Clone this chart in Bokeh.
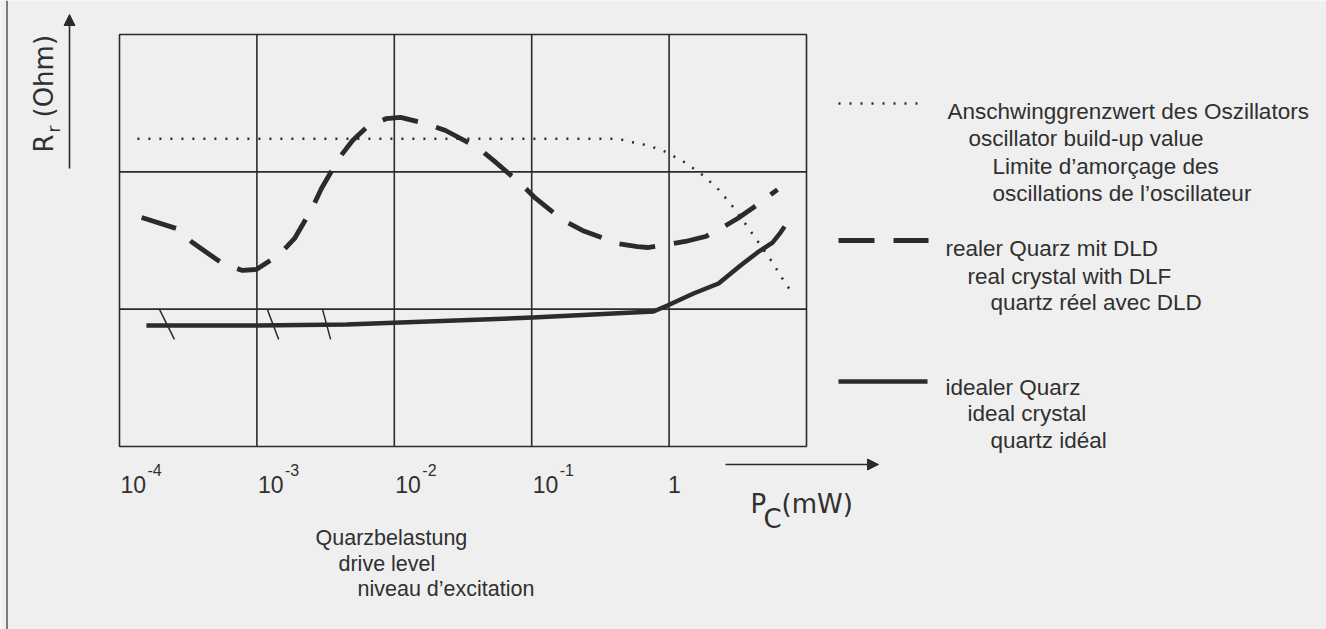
import numpy as np
from bokeh.plotting import figure
from bokeh.models import Arrow, NormalHead, Range1d
from bokeh.core.properties import value
from bokeh.embed import file_html
from bokeh.resources import INLINE

# ---------------- data ----------------
x_ticks = [1e-4, 1e-3, 1e-2, 1e-1, 1.0]
x_tick_base = ["10", "10", "10", "10", "1"]
x_tick_exp = ["-4", "-3", "-2", "-1", ""]
x_grid = [1e-3, 1e-2, 1e-1, 1.0]
y_grid = [1, 2]
x_box = [1e-4, 10.0]
y_box = [0, 3]

# oscillator build-up limit (dotted)
limit_x = [1.35e-4, 0.43, 0.51, 0.62, 0.76, 0.90, 1.25, 1.69, 2.25, 2.89, 3.60, 4.48, 5.66, 6.80, 7.65]
limit_y = [2.24, 2.24, 2.22, 2.205, 2.18, 2.155, 2.08, 1.99, 1.88, 1.75, 1.62, 1.485, 1.34, 1.21, 1.135]

# real crystal with DLD (dashed)
real_x = [1.45e-4, 2.6e-4, 3.4e-4, 5.6e-4, 7.85e-4, 9.9e-4, 1.46e-3, 1.88e-3, 2.54e-3, 2.95e-3,
          3.99e-3, 4.97e-3, 6.28e-3, 8.77e-3, 1.11e-2, 1.69e-2, 2.36e-2, 4.04e-2, 5.27e-2, 8.57e-2,
          0.107, 0.170, 0.234, 0.421, 0.589, 0.697, 0.973, 1.315, 1.84, 2.37, 3.15, 4.11, 6.15]
real_y = [1.668, 1.587, 1.485, 1.333, 1.282, 1.289, 1.398, 1.515, 1.740, 1.879,
          2.104, 2.228, 2.323, 2.388, 2.396, 2.352, 2.301, 2.177, 2.083, 1.901,
          1.806, 1.646, 1.573, 1.478, 1.456, 1.449, 1.471, 1.493, 1.529, 1.587, 1.660, 1.740, 1.871]

# ideal crystal (solid)
ideal_x = [1.57e-4, 1.0e-3, 4.49e-3, 1.11e-2, 0.1015, 0.769, 0.973, 1.505, 2.29, 3.31, 4.40, 5.66, 6.47, 6.92]
ideal_y = [0.881, 0.881, 0.888, 0.903, 0.939, 0.983, 1.027, 1.114, 1.187, 1.318, 1.413, 1.485, 1.558, 1.602]

# hatch marks across the ideal curve
hatch_x0 = [1.95e-4, 1.19e-3, 3.0e-3]
hatch_x1 = [2.51e-4, 1.44e-3, 3.44e-3]
hatch_y0 = [1.0, 1.0, 1.0]
hatch_y1 = [0.78, 0.78, 0.78]

legend_limit = ["Anschwinggrenzwert des Oszillators", "oscillator build-up value",
                "Limite d\u2019amor\u00e7age des", "oscillations de l\u2019oscillateur"]
legend_real = ["realer Quarz mit DLD", "real crystal with DLF", "quartz r\u00e9el avec DLD"]
legend_ideal = ["idealer Quarz", "ideal crystal", "quartz id\u00e9al"]
xlabel_lines = ["Quarzbelastung", "drive level", "niveau d\u2019excitation"]

# ---------------- layout ----------------
W, H = 1326, 629
BL, BR, BT, BB = 119, 806, 34, 446        # grid box edges in canvas pixels
E0, E1 = -4, 1                            # decades spanned by the box
Y0, Y1 = 0, 3

def X(px):
    return 10 ** (E0 + (E1 - E0) * (px - BL) / (BR - BL))

def Y(py):
    return Y0 + (Y1 - Y0) * (BB - py) / (BB - BT)

INK = "#2b2b2b"
TXT = "#303030"
BG = "#efefef"
SANS = "Liberation Sans"
GEO = "DejaVu Sans"

p = figure(width=W, height=H, x_axis_type="log",
           x_range=Range1d(X(0), X(W)), y_range=Range1d(Y(H), Y(0)),
           x_axis_location=None, y_axis_location=None,
           output_backend="svg", toolbar_location=None,
           min_border=0, min_border_left=0, min_border_right=0,
           min_border_top=0, min_border_bottom=0)
p.background_fill_color = BG
p.border_fill_color = BG
p.outline_line_color = None
p.grid.visible = False

# page frame line on the left
p.segment([X(6.5)], [Y(0)], [X(6.5)], [Y(H)], line_color="#555555", line_width=1.5)

# grid box and grid lines
p.quad(left=[x_box[0]], right=[x_box[1]], bottom=[y_box[0]], top=[y_box[1]],
       fill_color=None, line_color=INK, line_width=1.6)
p.segment(x_grid, [y_box[0]] * len(x_grid), x_grid, [y_box[1]] * len(x_grid),
          line_color=INK, line_width=1.6)
p.segment([x_box[0]] * len(y_grid), y_grid, [x_box[1]] * len(y_grid), y_grid,
          line_color=INK, line_width=1.6)

# curves
p.line(limit_x, limit_y, line_color=INK, line_width=2.5, line_dash="2 9")
p.line(real_x, real_y, line_color=INK, line_width=4.8, line_dash="36 19", line_join="round")
p.line(ideal_x, ideal_y, line_color=INK, line_width=4.5, line_join="round")
p.segment(hatch_x0, hatch_y0, hatch_x1, hatch_y1, line_color=INK, line_width=1.5)

def txt(xs, ys, texts, size="22px", font=SANS, angle=0.0, x_offset=0):
    p.text(x=xs, y=ys, text=texts, text_font=value(font), text_font_size=value(size),
           text_color=TXT, text_baseline="alphabetic", text_align="left",
           angle=angle, x_offset=x_offset)

# tick labels
txt(x_ticks[:4], [Y(484)] * 4, x_tick_base[:4], size="23px", x_offset=1)
txt(x_ticks[4:], [Y(484)], x_tick_base[4:], size="23px", x_offset=-1)
txt(x_ticks[:4], [Y(469)] * 4, x_tick_exp[:4], size="16px", x_offset=28)

# x axis label and arrow
txt([X(750)], [Y(503)], ["P"], "26px", GEO)
txt([X(763)], [Y(518)], ["C"], "26px", GEO)
txt([X(781)], [Y(503)], ["(mW)"], "26px", GEO)
p.add_layout(Arrow(x_start=X(725), y_start=Y(464), x_end=X(878), y_end=Y(464),
                   line_color=INK, line_width=1.6,
                   end=NormalHead(size=11, fill_color=INK, line_color=INK)))

# y axis label and arrow
txt([X(43)], [Y(152)], ["R"], "26px", GEO, np.pi / 2)
txt([X(53)], [Y(132)], ["r"], "17px", GEO, np.pi / 2)
txt([X(43)], [Y(117)], ["(Ohm)"], "26px", GEO, np.pi / 2)
p.add_layout(Arrow(x_start=X(69), y_start=Y(168), x_end=X(69), y_end=Y(14),
                   line_color=INK, line_width=1.6,
                   end=NormalHead(size=11, fill_color=INK, line_color=INK)))

# legend samples
p.line([X(838), X(922)], [Y(103)] * 2, line_color=INK, line_width=2.5, line_dash="2 9")
p.line([X(838), X(928)], [Y(240)] * 2, line_color=INK, line_width=4.8, line_dash="36 19")
p.line([X(838), X(927)], [Y(381)] * 2, line_color=INK, line_width=4.5)

# legend texts (staggered lines)
def block(pos, lines, size="22.5px"):
    txt([X(a) for a, _ in pos], [Y(b) for _, b in pos], lines, size=size)

block([(947, 111), (968, 138), (992, 166), (992, 193)], legend_limit)
block([(945, 248), (967, 276), (990, 302)], legend_real)
block([(945, 387), (967, 413), (990, 440)], legend_ideal)
block([(315, 537), (338, 563), (357, 588)], xlabel_lines, size="21.5px")

open("out.html", "w").write(file_html(p, INLINE))
